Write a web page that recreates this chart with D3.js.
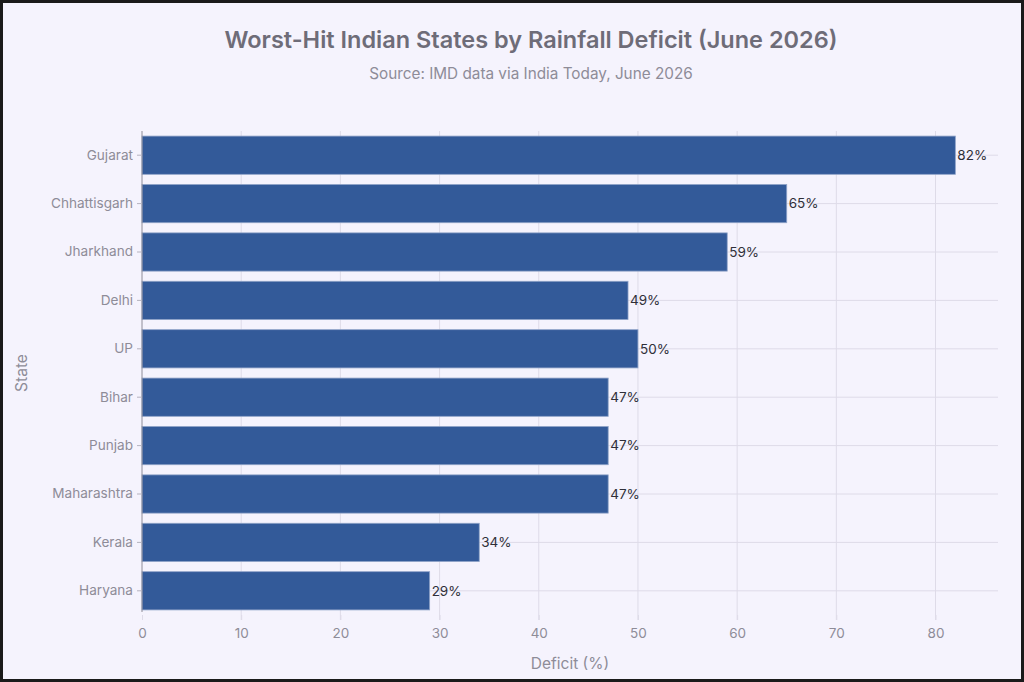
<!DOCTYPE html>
<html><head><meta charset="utf-8">
<script src="https://cdn.jsdelivr.net/npm/d3@7"></script>
<style>
html,body{margin:0;padding:0;background:#f5f3fd;}
svg{display:block;}
text{font-family:Inter,"Open Sans",sans-serif;}
</style></head>
<body>
<svg id="c" width="1024" height="682"></svg>
<script>
const states = ["Gujarat","Chhattisgarh","Jharkhand","Delhi","UP","Bihar","Punjab","Maharashtra","Kerala","Haryana"];
const deficits = [82,65,59,49,50,47,47,47,34,29];
const xTicks = [0,10,20,30,40,50,60,70,80];
const titleText = "Worst-Hit Indian States by Rainfall Deficit (June 2026)";
const subtitleText = "Source: IMD data via India Today, June 2026";

const svg = d3.select("#c");
const W = 1024, H = 682;
const m = {left:142, right:998, top:131, bottom:615};

svg.append("rect").attr("x",1.5).attr("y",1.5).attr("width",W-3).attr("height",H-3)
  .attr("fill","#f5f3fd").attr("stroke","#1a1a1a").attr("stroke-width",3);

const x = d3.scaleLinear().domain([0,86.3]).range([m.left,m.right]);
const y = d3.scaleBand().domain(states).range([m.top,m.bottom]).paddingInner(0.21).paddingOuter(0.105);

// vertical grid
svg.append("g").selectAll("line").data(xTicks.filter(d=>d>0)).join("line")
  .attr("x1",d=>x(d)).attr("x2",d=>x(d)).attr("y1",m.top).attr("y2",620)
  .attr("stroke","#dedbe8").attr("stroke-width",1);
// horizontal grid at category centers
svg.append("g").selectAll("line").data(states).join("line")
  .attr("x1",m.left).attr("x2",m.right)
  .attr("y1",d=>y(d)+y.bandwidth()/2).attr("y2",d=>y(d)+y.bandwidth()/2)
  .attr("stroke","#dedbe8").attr("stroke-width",1);

// bars
svg.append("g").selectAll("rect").data(states).join("rect")
  .attr("x",x(0)).attr("y",d=>y(d))
  .attr("width",(d,i)=>x(deficits[i])-x(0)).attr("height",y.bandwidth())
  .attr("fill","#335a99").attr("stroke","#8fa3c8").attr("stroke-width",0.8);

// value labels
svg.append("g").selectAll("text").data(states).join("text")
  .attr("x",(d,i)=>x(deficits[i])+2).attr("y",d=>y(d)+y.bandwidth()/2)
  .attr("dy","0.35em").attr("font-size",13.5).attr("fill","#2f2f38")
  .text((d,i)=>deficits[i]+"%");

// x axis
const xa = svg.append("g").attr("transform",`translate(0,${m.bottom})`)
  .call(d3.axisBottom(x).tickValues(xTicks).tickSize(5).tickPadding(8));
xa.select(".domain").remove();
xa.selectAll(".tick line").attr("stroke","#dedbe8");
xa.selectAll(".tick text").attr("font-size",13.5).attr("fill","#8e8c98").attr("font-family","Inter,sans-serif");

// y axis
const ya = svg.append("g").attr("transform",`translate(${m.left},0)`)
  .call(d3.axisLeft(y).tickSize(5).tickPadding(4));
ya.select(".domain").attr("stroke","#8e8c98").attr("d",`M0,${m.top}V612`);
ya.selectAll(".tick line").attr("stroke","#b5b3bf");
ya.selectAll(".tick text").attr("font-size",13.6).attr("fill","#8e8c98").attr("font-family","Inter,sans-serif");

// titles
svg.append("text").attr("x",531).attr("y",48).attr("text-anchor","middle")
  .attr("font-size",23.5).attr("font-weight",600).attr("fill","#6e6c78").text(titleText);
svg.append("text").attr("x",531).attr("y",79).attr("text-anchor","middle")
  .attr("font-size",15.3).attr("fill","#8e8c98").text(subtitleText);
svg.append("text").attr("x",570).attr("y",669).attr("text-anchor","middle")
  .attr("font-size",15.5).attr("fill","#8e8c98").text("Deficit (%)");
svg.append("text").attr("transform","translate(27,373) rotate(-90)").attr("text-anchor","middle")
  .attr("font-size",15.5).attr("fill","#8e8c98").text("State");
</script>
</body></html>
